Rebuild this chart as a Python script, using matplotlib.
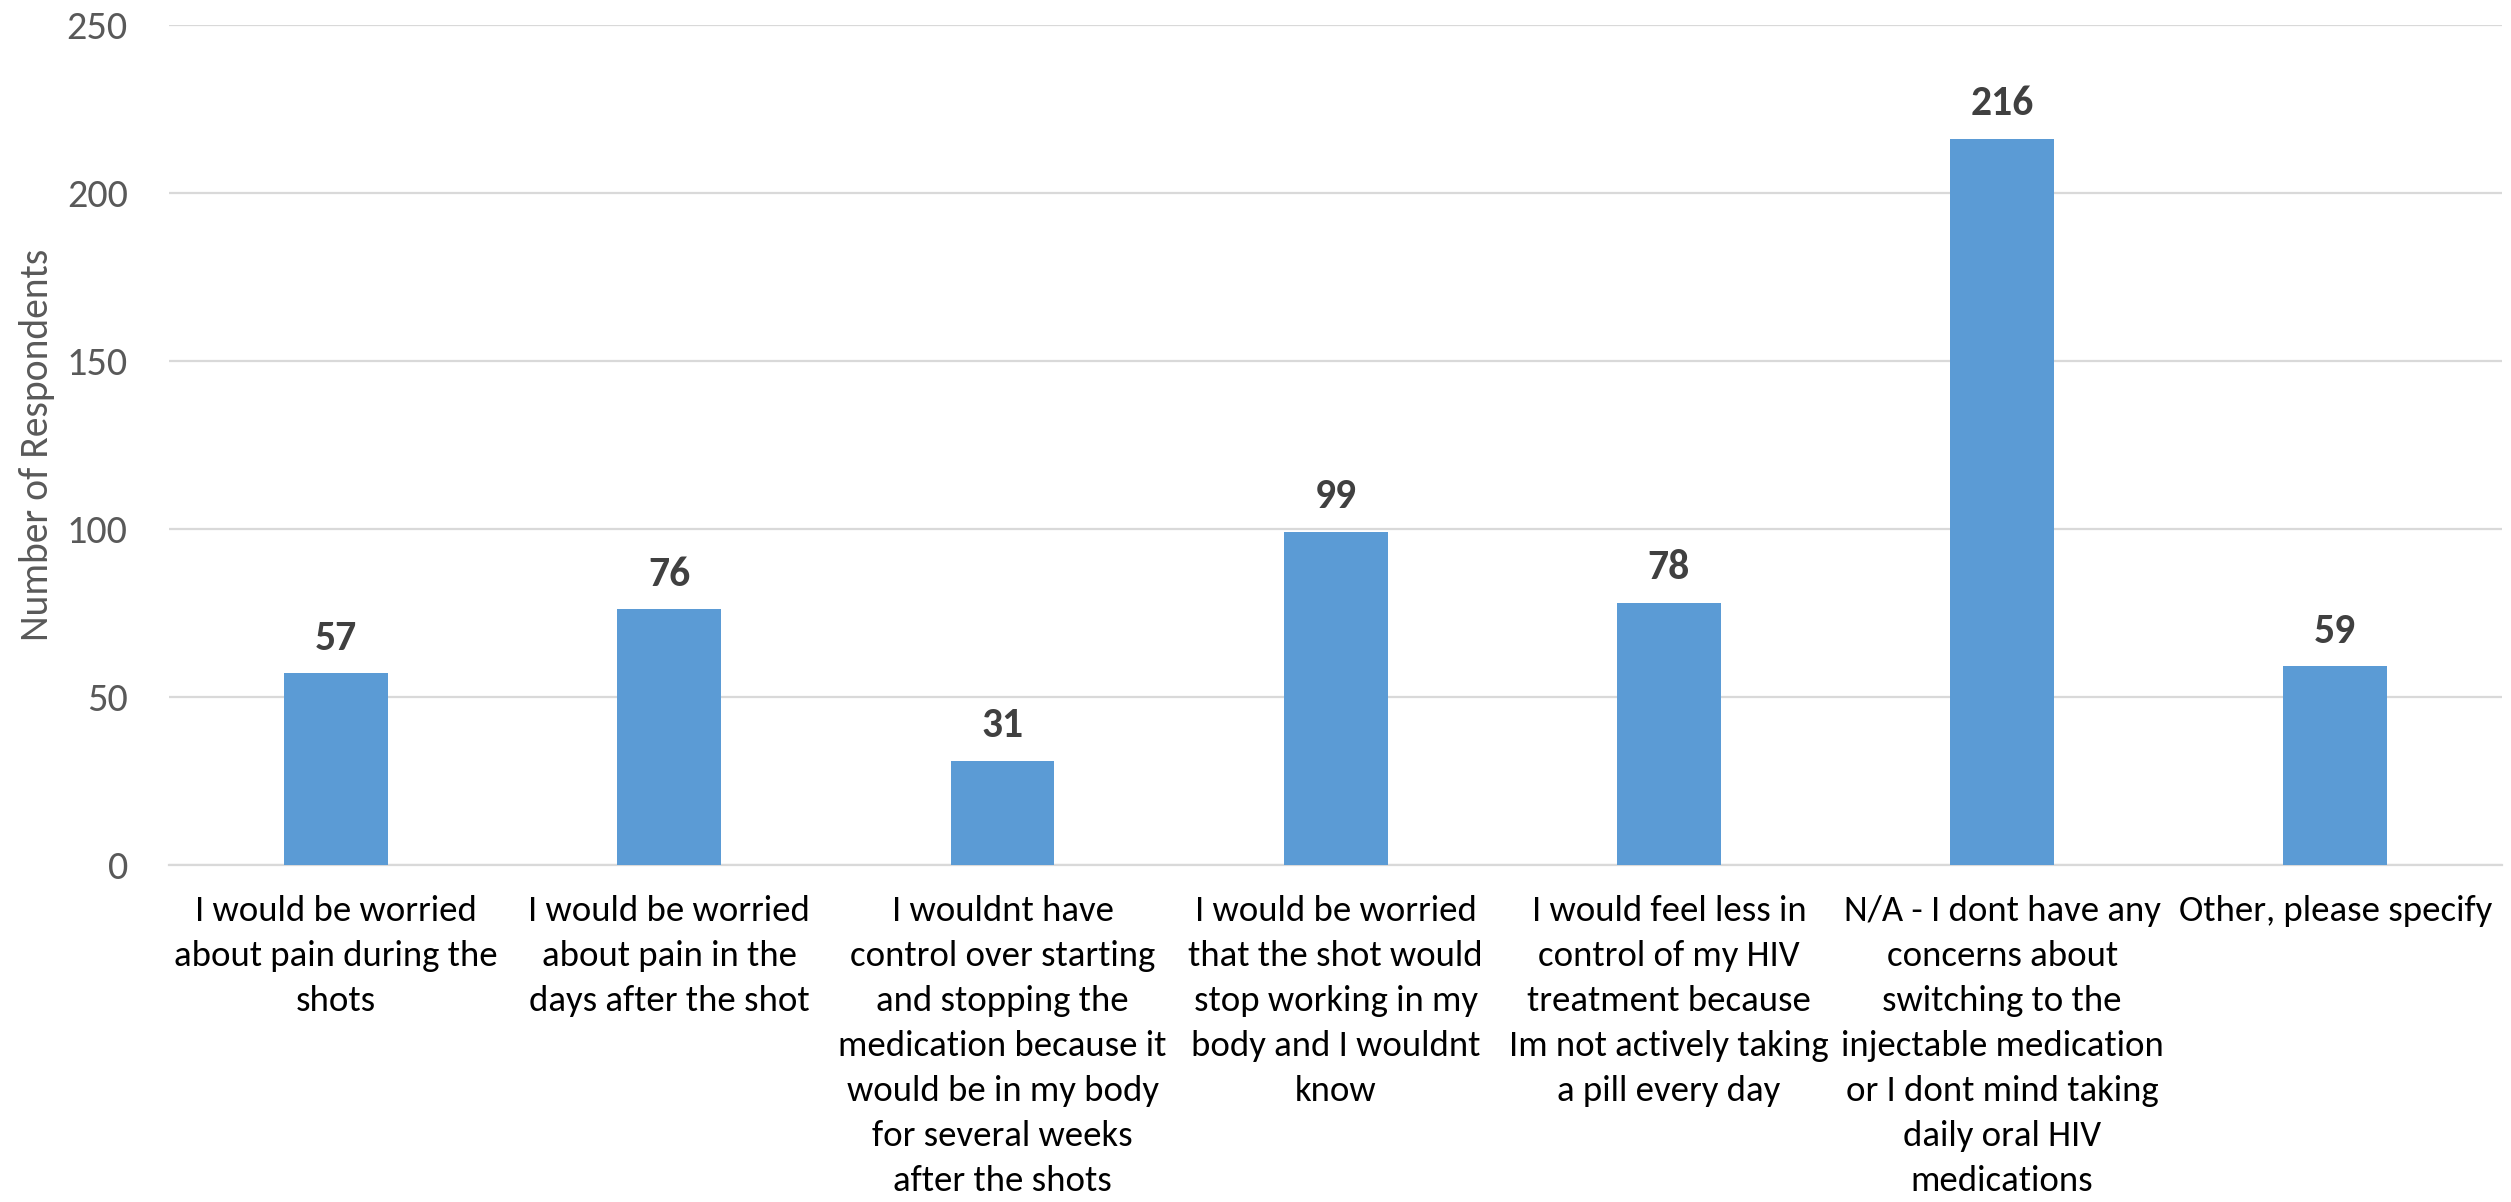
#!/usr/bin/env python3
import matplotlib
matplotlib.use('Agg')
import matplotlib.pyplot as plt

categories = [
    'I would be worried\nabout pain during the\nshots',
    'I would be worried\nabout pain in the\ndays after the shot',
    'I wouldnt have\ncontrol over starting\nand stopping the\nmedication because it\nwould be in my body\nfor several weeks\nafter the shots',
    'I would be worried\nthat the shot would\nstop working in my\nbody and I wouldnt\nknow',
    'I would feel less in\ncontrol of my HIV\ntreatment because\nIm not actively taking\na pill every day',
    'N/A - I dont have any\nconcerns about\nswitching to the\ninjectable medication\nor I dont mind taking\ndaily oral HIV\nmedications',
    'Other, please specify',
]
counts = [57, 76, 31, 99, 78, 216, 59]
yticks = [0, 50, 100, 150, 200, 250]

# Calibri look-alike first
narrow = ['Carlito', 'IBM Plex Sans Condensed', 'DejaVu Sans']

fig = plt.figure(figsize=(25.11, 12.02), dpi=100)
ax = fig.add_axes([0.0675, 0.2806, 0.9289, 0.6989])

xs = range(len(counts))
ax.bar(xs, counts, width=0.312, color='#5B9BD5', zorder=3)

for x, v in zip(xs, counts):
    ax.annotate(str(v), (x, v), xytext=(0, 12), textcoords='offset points',
                ha='center', va='bottom', fontsize=30, fontweight='bold',
                color='#404040', family=narrow)

ax.set_xlim(-0.5, len(counts) - 0.5)
ax.set_ylim(0, 250)
ax.set_yticks(yticks)
ax.set_yticklabels([str(t) for t in yticks], fontsize=29, color='#595959',
                   family=narrow)
ax.yaxis.grid(True, color='#D9D9D9', linewidth=1.6, zorder=0)
ax.set_axisbelow(True)

ax.set_xticks(list(xs))
ax.set_xticklabels(categories, fontsize=26.5, color='#000000', family=narrow,
                   linespacing=1.5, va='top')
ax.tick_params(axis='x', length=0, pad=22)
ax.tick_params(axis='y', length=0, pad=30)

for s in ['top', 'right', 'left']:
    ax.spines[s].set_visible(False)
ax.spines['bottom'].set_color('#D9D9D9')
ax.spines['bottom'].set_linewidth(1.6)

ax.set_ylabel('Number of Respondents', fontsize=28.5, color='#595959',
              family=narrow)
ax.yaxis.set_label_coords(-0.049, 0.5)

plt.savefig('out.png', dpi=100)
